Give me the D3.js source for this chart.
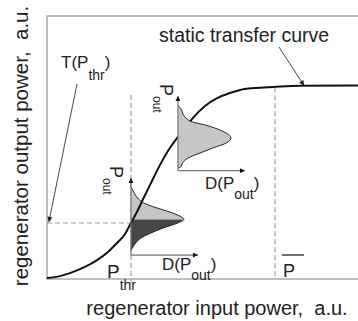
<!DOCTYPE html>
<html>
<head>
<meta charset="utf-8">
<script src="https://cdn.jsdelivr.net/npm/d3@7"></script>
<style>
  body { margin: 0; background: #fff; }
  svg { display: block; }
  text { font-family: "Liberation Sans", Arial, sans-serif; fill: #222; }
</style>
</head>
<body>
<div id="chart"></div>
<script>
// static transfer curve, input / output power in a.u.
const curveIn  = [0, 4.2, 8.4, 12.2, 16.1, 19.6, 22.5, 25.1, 27.0, 28.9, 30.9, 33.1, 36.3, 39.5, 41.8, 44.4, 46.6, 50.8, 54.7, 58.8, 62.1, 66.9, 72.7, 81.4, 100];
const curveOut = [0.4, 1.1, 2.7, 4.6, 7.2, 10.3, 13.7, 17.1, 21.3, 25.5, 30.4, 35.7, 43.3, 49.8, 53.6, 57.4, 60.8, 65.8, 68.8, 70.7, 71.9, 72.6, 73.0, 73.5, 73.6];

const pThr = 27.0;   // threshold input
const tThr = 21.3;   // T(P_thr)
const pBar = 73.3;   // mean input power
const tBar = 72.9;

// output distribution at threshold (split at its peak)
const lowOut  = [35.0, 33.1, 30.8, 28.9, 27.4, 26.2, 24.3, 22.6, 21.3, 19.4, 17.5, 15.6, 13.7, 12.2, 11.0];
const lowDens = [0, 4, 10, 19, 34, 49, 70, 79, 70, 48, 30, 15, 7, 3, 0];
const lowPeak = 22.6;

// output distribution on the linear part
const upOut  = [65.8, 65.0, 63.1, 61.2, 59.7, 58.6, 57.4, 55.5, 53.6, 51.7, 49.8, 47.9, 46.0, 44.1, 42.6, 42.2];
const upDens = [0, 4, 7, 12, 22, 40, 55, 72, 79, 72, 52, 33, 15, 7, 4, 0];

const width = 358, height = 321;
const x = d3.scaleLinear([0, 100], [47, 358]);
const y = d3.scaleLinear([0, 100], [279, 16]);
const dens = d3.scaleLinear([0, 100], [0, 67]);

const svg = d3.select("#chart").append("svg")
  .attr("width", width).attr("height", height);

const defs = svg.append("defs");
defs.append("marker")
  .attr("id", "arr")
  .attr("viewBox", "0 0 10 10")
  .attr("refX", 10).attr("refY", 5)
  .attr("markerWidth", 7).attr("markerHeight", 5)
  .attr("markerUnits", "userSpaceOnUse")
  .attr("orient", "auto")
  .append("path").attr("d", "M0,0L10,5L0,10z").attr("fill", "#111");

// frame (left, top, bottom)
const frame = d3.path();
frame.moveTo(x(100), y(100));
frame.lineTo(x(0), y(100));
frame.lineTo(x(0), y(0));
frame.lineTo(x(100), y(0));
svg.append("path").attr("d", frame.toString())
  .attr("fill", "none").attr("stroke", "#aaa").attr("stroke-width", 1.5);

// dashed guides
const dash = svg.append("g").attr("stroke", "#999").attr("stroke-width", 1.1)
  .attr("stroke-dasharray", "5,3");
dash.append("line").attr("x1", x(pThr)).attr("x2", x(pThr))
  .attr("y1", y(70)).attr("y2", y(-2.3));
dash.append("line").attr("x1", x(0)).attr("x2", x(pThr))
  .attr("y1", y(tThr)).attr("y2", y(tThr));
dash.append("line").attr("x1", x(pBar)).attr("x2", x(pBar))
  .attr("y1", y(tBar)).attr("y2", y(0));

// lower distribution
const lowX0 = x(pThr), lowY0 = y(9.1), lowTop = y(38.4);
const lowPts = lowOut.map((o, i) => ({o, d: lowDens[i]}));
const distArea = x0 => d3.area()
  .y(p => y(p.o)).x0(x0).x1(p => x0 + dens(p.d))
  .curve(d3.curveMonotoneY);
const distLine = x0 => d3.line()
  .y(p => y(p.o)).x(p => x0 + dens(p.d))
  .curve(d3.curveMonotoneY);

svg.append("path").datum(lowPts.filter(p => p.o >= lowPeak))
  .attr("d", distArea(lowX0)).attr("fill", "#c6c6c6");
svg.append("path").datum(lowPts.filter(p => p.o <= lowPeak))
  .attr("d", distArea(lowX0)).attr("fill", "#464646");
svg.append("path").datum(lowPts)
  .attr("d", distLine(lowX0)).attr("fill", "none").attr("stroke", "#222").attr("stroke-width", 1);

// transfer curve
const curvePts = curveIn.map((v, i) => [v, curveOut[i]]);
svg.append("path").datum(curvePts)
  .attr("d", d3.line().x(d => x(d[0])).y(d => y(d[1])).curve(d3.curveMonotoneX))
  .attr("fill", "none").attr("stroke", "#111").attr("stroke-width", 2);

// upper distribution
const upX0 = x(42.1), upY0 = y(41.2), upTop = y(69.6);
const upPts = upOut.map((o, i) => ({o, d: upDens[i]}));
svg.append("path").datum(upPts)
  .attr("d", distArea(upX0)).attr("fill", "#c6c6c6");
svg.append("path").datum(upPts)
  .attr("d", distLine(upX0)).attr("fill", "none").attr("stroke", "#222").attr("stroke-width", 1);

// inset axes
function insetAxes(x0, y0, top) {
  const g = svg.append("g").attr("stroke", "#777").attr("stroke-width", 1.2);
  g.append("line").attr("x1", x0).attr("y1", y0).attr("x2", x0).attr("y2", top)
    .attr("marker-end", "url(#arr)");
  g.append("line").attr("x1", x0).attr("y1", y0).attr("x2", x0 + dens(100)).attr("y2", y0)
    .attr("marker-end", "url(#arr)");
}
insetAxes(lowX0, lowY0, lowTop);
insetAxes(upX0, upY0, upTop);

// pointer arrows
svg.append("line")
  .attr("x1", 77).attr("y1", 84).attr("x2", x(0.6)).attr("y2", y(tThr) - 1)
  .attr("stroke", "#333").attr("stroke-width", 0.9).attr("marker-end", "url(#arr)");
svg.append("line")
  .attr("x1", 279).attr("y1", 47).attr("x2", 304).attr("y2", y(73.2) - 1)
  .attr("stroke", "#333").attr("stroke-width", 0.9).attr("marker-end", "url(#arr)");

// labels
svg.append("text")
  .attr("x", 159).attr("y", 42)
  .style("font-size", "19.5px")
  .text("static transfer curve");

svg.append("text")
  .attr("transform", "translate(28,146) rotate(-90)")
  .attr("text-anchor", "middle")
  .style("font-size", "20.5px").style("white-space", "pre")
  .text("regenerator output power,  a.u.");

svg.append("text")
  .attr("x", 217).attr("y", 315)
  .attr("text-anchor", "middle")
  .style("font-size", "20px").style("white-space", "pre")
  .text("regenerator input power,  a.u.");

function subLabel(g, main, sub, tail, big, small, drop) {
  const t = g.append("text").style("font-size", big + "px");
  t.append("tspan").text(main);
  t.append("tspan").attr("dy", drop).style("font-size", small + "px").text(sub);
  if (tail) t.append("tspan").attr("dy", -drop).text(tail);
  return t;
}

subLabel(svg.append("g").attr("transform", "translate(61,68)"), "T(P", "thr", ")", 17, 14, 12);
subLabel(svg.append("g").attr("transform", "translate(107,278)"), "P", "thr", null, 19, 14, 12);
subLabel(svg.append("g").attr("transform", "translate(162,270)"), "D(P", "out", ")", 17, 14, 10);
subLabel(svg.append("g").attr("transform", "translate(205,189)"), "D(P", "out", ")", 17, 14, 10);
subLabel(svg.append("g").attr("transform", "translate(110,166) rotate(90)"), "P", "out", null, 18, 12, 7);
subLabel(svg.append("g").attr("transform", "translate(160,84) rotate(90)"), "P", "out", null, 18, 12, 7);

svg.append("text")
  .attr("x", 283).attr("y", 277)
  .style("font-size", "18px")
  .text("P");
svg.append("line")
  .attr("x1", 282).attr("x2", 304).attr("y1", 255).attr("y2", 255)
  .attr("stroke", "#222").attr("stroke-width", 1.3);
</script>
</body>
</html>
